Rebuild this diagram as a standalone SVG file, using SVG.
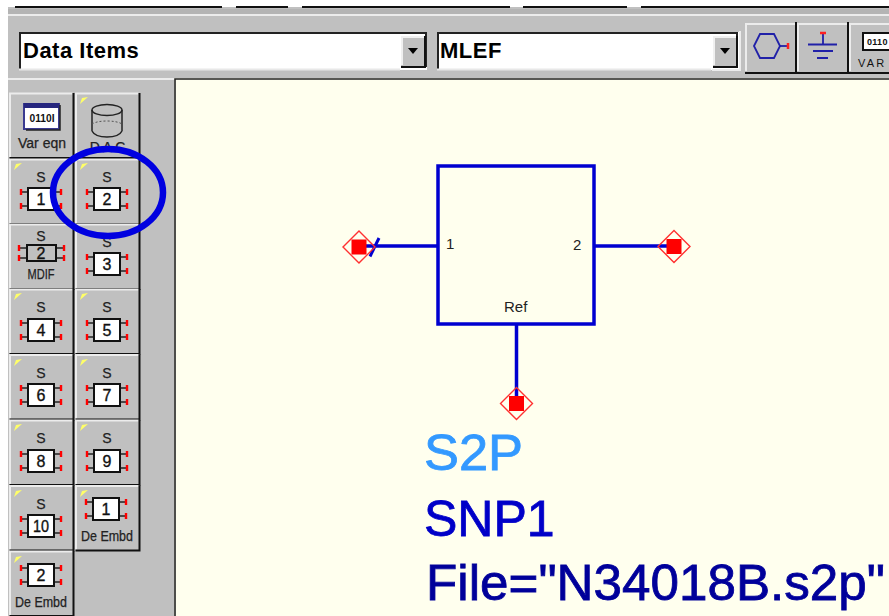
<svg xmlns="http://www.w3.org/2000/svg" width="889" height="616" viewBox="0 0 889 616">
<style>
.ui{font-family:"Liberation Sans",Arial,sans-serif;fill:#111}
.combo{font-size:22px;font-weight:bold;fill:#000;letter-spacing:.5px}
.lbl{font-size:14px;text-anchor:middle;fill:#222;stroke:#222;stroke-width:.25}
.num{font-size:16px;text-anchor:middle;fill:#111;stroke:#111;stroke-width:.35}
.cad{font-family:"Liberation Sans",Arial,sans-serif;font-size:15px;fill:#222}
.big{font-family:"Liberation Sans",Arial,sans-serif;font-size:50px;stroke-width:.8}
.wire{stroke:#0000d0;stroke-width:3.500;fill:none}
.pin{stroke:#ff3030;stroke-width:1.4;fill:none}
.red{fill:#ff0000}
.redl{stroke:#222;stroke-width:1.5;fill:none}
.bb{stroke:#111;stroke-width:2;fill:#fff}
</style>
<defs>
<g id="btn">
<rect x="0" y="0" width="64" height="65" fill="#c0c0c0"/>
<path d="M0.500 64V0.500H63" stroke="#ececec" stroke-width="2" fill="none"/>
<path d="M64 0V65H0" stroke="#111" stroke-width="2" fill="none"/>
</g>
<path id="flag" d="M4 11L6 5L12 4Z" fill="#ffff66"/>
<g id="pins">
<path class="redl" d="M-19 -7H-12M-19 7H-12M12 -7H19M12 7H19"/>
<path d="M-20 -10V-4M-20 4V10M20 -10V-4M20 4V10" stroke="#ff0000" stroke-width="2.400" fill="none"/>
<rect class="bb" x="-13" y="-11" width="26" height="22"/>
</g>
<g id="comboBtn">
<rect x="0" y="0" width="24" height="30" fill="#c0c0c0"/>
<path d="M1 29V1H23" stroke="#f0f0f0" stroke-width="2" fill="none"/>
<path d="M24 0V31H0" stroke="#111" stroke-width="2" fill="none"/>
<path d="M7 12H17L12 18Z" fill="#000"/>
</g>
<g id="port">
<path class="pin" d="M0 -16L16 0L0 16L-16 0Z"/>
<rect class="red" x="-7.500" y="-7.500" width="15" height="15"/>
</g>
</defs>

<rect width="889" height="616" fill="#c0c0c0"/>

<g id="top-strip">
<rect width="889" height="7" fill="#fff"/>
<path d="M15 7H222M236 7H288M302 7H510M523 7H627M641 7H889" stroke="#111" stroke-width="2" fill="none"/>
<rect x="8" y="9" width="881" height="5" fill="#b4b4b4"/>
<rect x="8" y="14" width="881" height="2" fill="#ececec"/>
<rect x="0" y="0" width="8" height="616" fill="#fff"/>
</g>

<g id="combo-data-items">
<rect x="19" y="32" width="408" height="38" fill="#fff"/>
<path d="M20 69V33H426V67" stroke="#222" stroke-width="2" fill="none"/>
<path d="M19 69.500H400" stroke="#e8e8e8" stroke-width="2"/>
<use href="#comboBtn" x="401" y="36"/>
<text class="ui combo" x="23" y="58">Data Items</text>
</g>

<g id="combo-mlef">
<rect x="437" y="32" width="302" height="38" fill="#fff"/>
<path d="M438 69V33H737V67" stroke="#222" stroke-width="2" fill="none"/>
<path d="M437 69.500H711" stroke="#e8e8e8" stroke-width="2"/>
<path d="M740 31V70H712" stroke="#ececec" stroke-width="2" fill="none"/>
<use href="#comboBtn" x="713" y="36"/>
<text class="ui combo" x="440" y="58">MLEF</text>
</g>

<g id="tool-port">
<rect x="745" y="23" width="50" height="49" fill="#c0c0c0"/>
<path d="M746 71V24H795" stroke="#ececec" stroke-width="2" fill="none"/>
<path d="M796 22V73H745" stroke="#111" stroke-width="2" fill="none"/>
<path d="M754 46L760 34H774L780 46L774 58H760Z" stroke="#2020a8" stroke-width="1.800" fill="none"/>
<path d="M780 46H787" stroke="#2020a8" stroke-width="1.800"/>
<path d="M788 43V49" stroke="#ff2020" stroke-width="2.500"/>
</g>
<g id="tool-ground">
<rect x="797" y="23" width="50" height="49" fill="#c0c0c0"/>
<path d="M798 71V24H847" stroke="#ececec" stroke-width="2" fill="none"/>
<path d="M848 22V73H797" stroke="#111" stroke-width="2" fill="none"/>
<path d="M823 33V44M808 44.500H837M813 51H833M817 58H828" stroke="#2020a8" stroke-width="1.800" fill="none"/>
<path d="M820 33H826" stroke="#ff2020" stroke-width="2.500"/>
</g>
<g id="tool-var">
<rect x="849" y="23" width="40" height="49" fill="#c0c0c0"/>
<path d="M850 71V24H889" stroke="#ececec" stroke-width="2" fill="none"/>
<path d="M849 73H889" stroke="#111" stroke-width="2"/>
<rect x="863" y="33" width="30" height="17" fill="#fff" stroke="#111" stroke-width="2"/>
<text class="ui" x="867" y="45" font-size="9" font-weight="bold" letter-spacing=".3">0110</text>
<text class="ui" x="858" y="67" font-size="11" letter-spacing="2.200" fill="#333">VAR</text>
</g>

<g id="palette-frame">
<path d="M8 79H175" stroke="#ececec" stroke-width="2"/>
<rect x="174" y="78" width="715" height="538" fill="#ffffee"/>
<path d="M175 616V79H889" stroke="#222" stroke-width="1.600" fill="none"/>
</g>

<g id="btn-vareqn"><use href="#btn" x="9.500" y="93"/>
<rect x="24" y="104" width="35" height="25" fill="#fff" stroke="#3a3a90" stroke-width="2"/>
<rect x="24" y="103" width="35" height="5" fill="#26267e"/>
<path d="M60 105V130H26" stroke="#222" stroke-width="1.500" fill="none"/>
<text class="ui" x="42" y="122" font-size="11" font-weight="bold" text-anchor="middle" textLength="25" lengthAdjust="spacingAndGlyphs">0110I</text>
<text class="ui lbl" x="42" y="148">Var eqn</text></g>

<g id="btn-dac"><use href="#btn" x="75.500" y="93"/><use href="#flag" x="76" y="93"/>
<ellipse cx="107" cy="110" rx="15" ry="5.500" fill="none" stroke="#222" stroke-width="1.500"/>
<path d="M92 110V131M122 110V131M92 131C96 139 118 139 122 131" fill="none" stroke="#222" stroke-width="1.500"/>
<path d="M92 124C98 120 116 120 122 124" fill="none" stroke="#555" stroke-width="1" stroke-dasharray="2 2"/>
<text class="ui lbl" x="109" y="152" letter-spacing="3">DAC</text></g>

<g id="btn-s1"><use href="#btn" x="9.500" y="159"/><use href="#flag" x="10" y="159"/>
<text class="ui lbl" x="41" y="182">S</text><use href="#pins" x="41" y="199"/><text class="ui num" x="41" y="205">1</text></g>
<g id="btn-s2"><use href="#btn" x="75.500" y="159"/><use href="#flag" x="76" y="159"/>
<text class="ui lbl" x="107" y="182">S</text><use href="#pins" x="107" y="199"/><text class="ui num" x="107" y="205">2</text></g>

<g id="btn-mdif"><use href="#btn" x="9.500" y="224"/>
<text class="ui lbl" x="41" y="241">S</text>
<path class="redl" d="M20 248H27M20 258H27M55 248H63M55 258H63"/>
<path d="M19 245V251M19 255V261M64 245V251M64 255V261" stroke="#ff0000" stroke-width="2.400" fill="none"/>
<rect x="27" y="245" width="29" height="16" fill="none" stroke="#111" stroke-width="2"/>
<text class="ui num" x="41" y="259">2</text>
<text class="ui lbl" x="41" y="279" textLength="27" lengthAdjust="spacingAndGlyphs">MDIF</text></g>
<g id="btn-s3"><use href="#btn" x="75.500" y="224"/>
<text class="ui lbl" x="107" y="247">S</text><use href="#pins" x="107" y="264"/><text class="ui num" x="107" y="270">3</text></g>

<g id="btn-s4"><use href="#btn" x="9.500" y="289"/><use href="#flag" x="10" y="289"/>
<text class="ui lbl" x="41" y="312">S</text><use href="#pins" x="41" y="330"/><text class="ui num" x="41" y="336">4</text></g>
<g id="btn-s5"><use href="#btn" x="75.500" y="289"/><use href="#flag" x="76" y="289"/>
<text class="ui lbl" x="107" y="312">S</text><use href="#pins" x="107" y="330"/><text class="ui num" x="107" y="336">5</text></g>

<g id="btn-s6"><use href="#btn" x="9.500" y="354.500"/><use href="#flag" x="10" y="355"/>
<text class="ui lbl" x="41" y="378">S</text><use href="#pins" x="41" y="395"/><text class="ui num" x="41" y="401">6</text></g>
<g id="btn-s7"><use href="#btn" x="75.500" y="354.500"/><use href="#flag" x="76" y="355"/>
<text class="ui lbl" x="107" y="378">S</text><use href="#pins" x="107" y="395"/><text class="ui num" x="107" y="401">7</text></g>

<g id="btn-s8"><use href="#btn" x="9.500" y="420"/><use href="#flag" x="10" y="420"/>
<text class="ui lbl" x="41" y="443">S</text><use href="#pins" x="41" y="461"/><text class="ui num" x="41" y="467">8</text></g>
<g id="btn-s9"><use href="#btn" x="75.500" y="420"/><use href="#flag" x="76" y="420"/>
<text class="ui lbl" x="107" y="443">S</text><use href="#pins" x="107" y="461"/><text class="ui num" x="107" y="467">9</text></g>

<g id="btn-s10"><use href="#btn" x="9.500" y="485.500"/><use href="#flag" x="10" y="486"/>
<text class="ui lbl" x="41" y="509">S</text><use href="#pins" x="41" y="526"/><text class="ui num" x="41" y="532" textLength="16" lengthAdjust="spacingAndGlyphs">10</text></g>
<g id="btn-de1"><use href="#btn" x="75.500" y="485.500"/><use href="#flag" x="76" y="486"/>
<use href="#pins" x="106" y="509"/><text class="ui num" x="106" y="515">1</text>
<text class="ui lbl" x="107" y="541" textLength="52" lengthAdjust="spacingAndGlyphs">De Embd</text></g>

<g id="btn-de2"><use href="#btn" x="9.500" y="551"/><use href="#flag" x="10" y="552"/>
<use href="#pins" x="41" y="575"/><text class="ui num" x="41" y="581">2</text>
<text class="ui lbl" x="41" y="607" textLength="52" lengthAdjust="spacingAndGlyphs">De Embd</text></g>

<g id="connectors">
<path class="wire" d="M359 246H438M594 246H673M516.500 324V403"/>
<path d="M370 256.500L379 238" stroke="#0000d0" stroke-width="3" fill="none"/>
</g>

<g id="node-s2p">
<rect class="wire" x="438" y="166" width="156" height="158"/>
<text class="cad" x="446" y="249">1</text>
<text class="cad" x="573" y="250">2</text>
<text class="cad" x="504" y="312">Ref</text>
</g>
<g id="port-1"><use href="#port" x="359" y="247"/></g>
<g id="port-2"><use href="#port" x="674" y="246.500"/></g>
<g id="port-ref"><use href="#port" x="516.500" y="403.500"/></g>

<g id="labels">
<text class="big" x="424" y="470" fill="#3399ff" stroke="#3399ff" textLength="99" lengthAdjust="spacingAndGlyphs">S2P</text>
<text class="big" x="424" y="536" fill="#0000c8" stroke="#0000c8">SNP1</text>
<text class="big" x="426" y="600" fill="#00009a" stroke="#00009a" textLength="459" lengthAdjust="spacingAndGlyphs">File="N34018B.s2p"</text>
</g>

<g id="highlight">
<ellipse cx="108" cy="192.500" rx="55" ry="43.500" fill="none" stroke="#0000e0" stroke-width="6.500"/>
</g>
</svg>
